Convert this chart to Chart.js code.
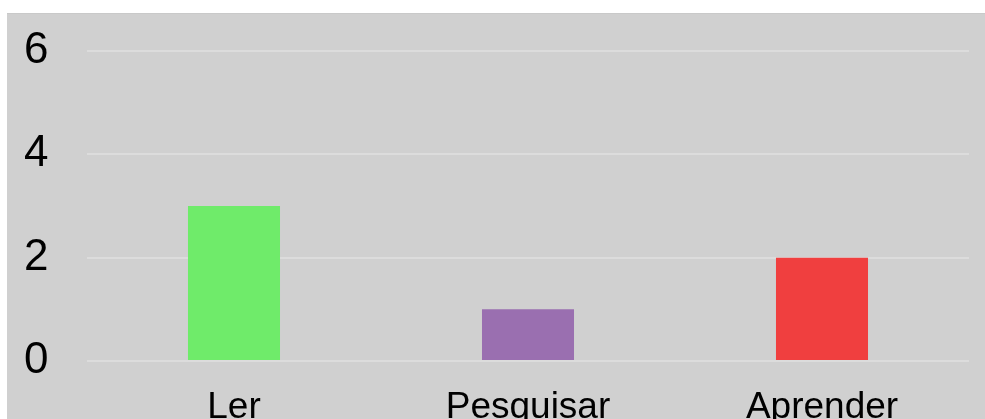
<!DOCTYPE html>
<html>
<head>
<meta charset="utf-8">
<script src="https://cdn.jsdelivr.net/npm/chart.js@4/dist/chart.umd.min.js"></script>
<style>
  html, body { margin: 0; padding: 0; background: #fff; overflow: hidden; }
  #box { position: absolute; left: 7px; top: 13px; width: 978px; height: 460px; background: #d0d0d0; border-top: 1px solid #c9c9c9; box-sizing: border-box; }
</style>
</head>
<body>
<div id="box"><canvas id="c"></canvas></div>
<script>
const categories = ['Ler', 'Pesquisar', 'Aprender'];
const values = [3, 1, 2];
const barColors = ['#6feb6a', '#9a6fb0', '#f03f3f'];
const yTicks = [0, 2, 4, 6];

const ctx = document.getElementById('c');
new Chart(ctx, {
    type: 'bar',
    data: {
        labels: categories,
        datasets: [{
            data: values,
            backgroundColor: barColors,
            borderWidth: 0,
            barPercentage: 0.313,
            categoryPercentage: 1
        }]
    },
    options: {
        responsive: true,
        maintainAspectRatio: false,
        animation: false,
        layout: { padding: { top: 37, right: 16, left: 17, bottom: 0 } },
        plugins: { legend: { display: false }, tooltip: { enabled: false } },
        scales: {
            x: {
                grid: { display: false, drawTicks: false },
                border: { display: false },
                ticks: { color: '#000', font: { family: 'Liberation Sans, Arial', size: 37 }, padding: 25 },
                afterFit: (s) => { s.height = 112; }
            },
            y: {
                min: 0,
                max: 6,
                afterBuildTicks: (s) => { s.ticks = yTicks.map(v => ({ value: v })); },
                grid: { color: '#dcdcdc', lineWidth: 2, drawTicks: false },
                border: { display: false },
                ticks: { color: '#000', font: { family: 'Liberation Sans, Arial', size: 44 }, padding: 0, crossAlign: 'far' },
                afterFit: (s) => { s.width = 63; }
            }
        }
    }
});
</script>
</body>
</html>
